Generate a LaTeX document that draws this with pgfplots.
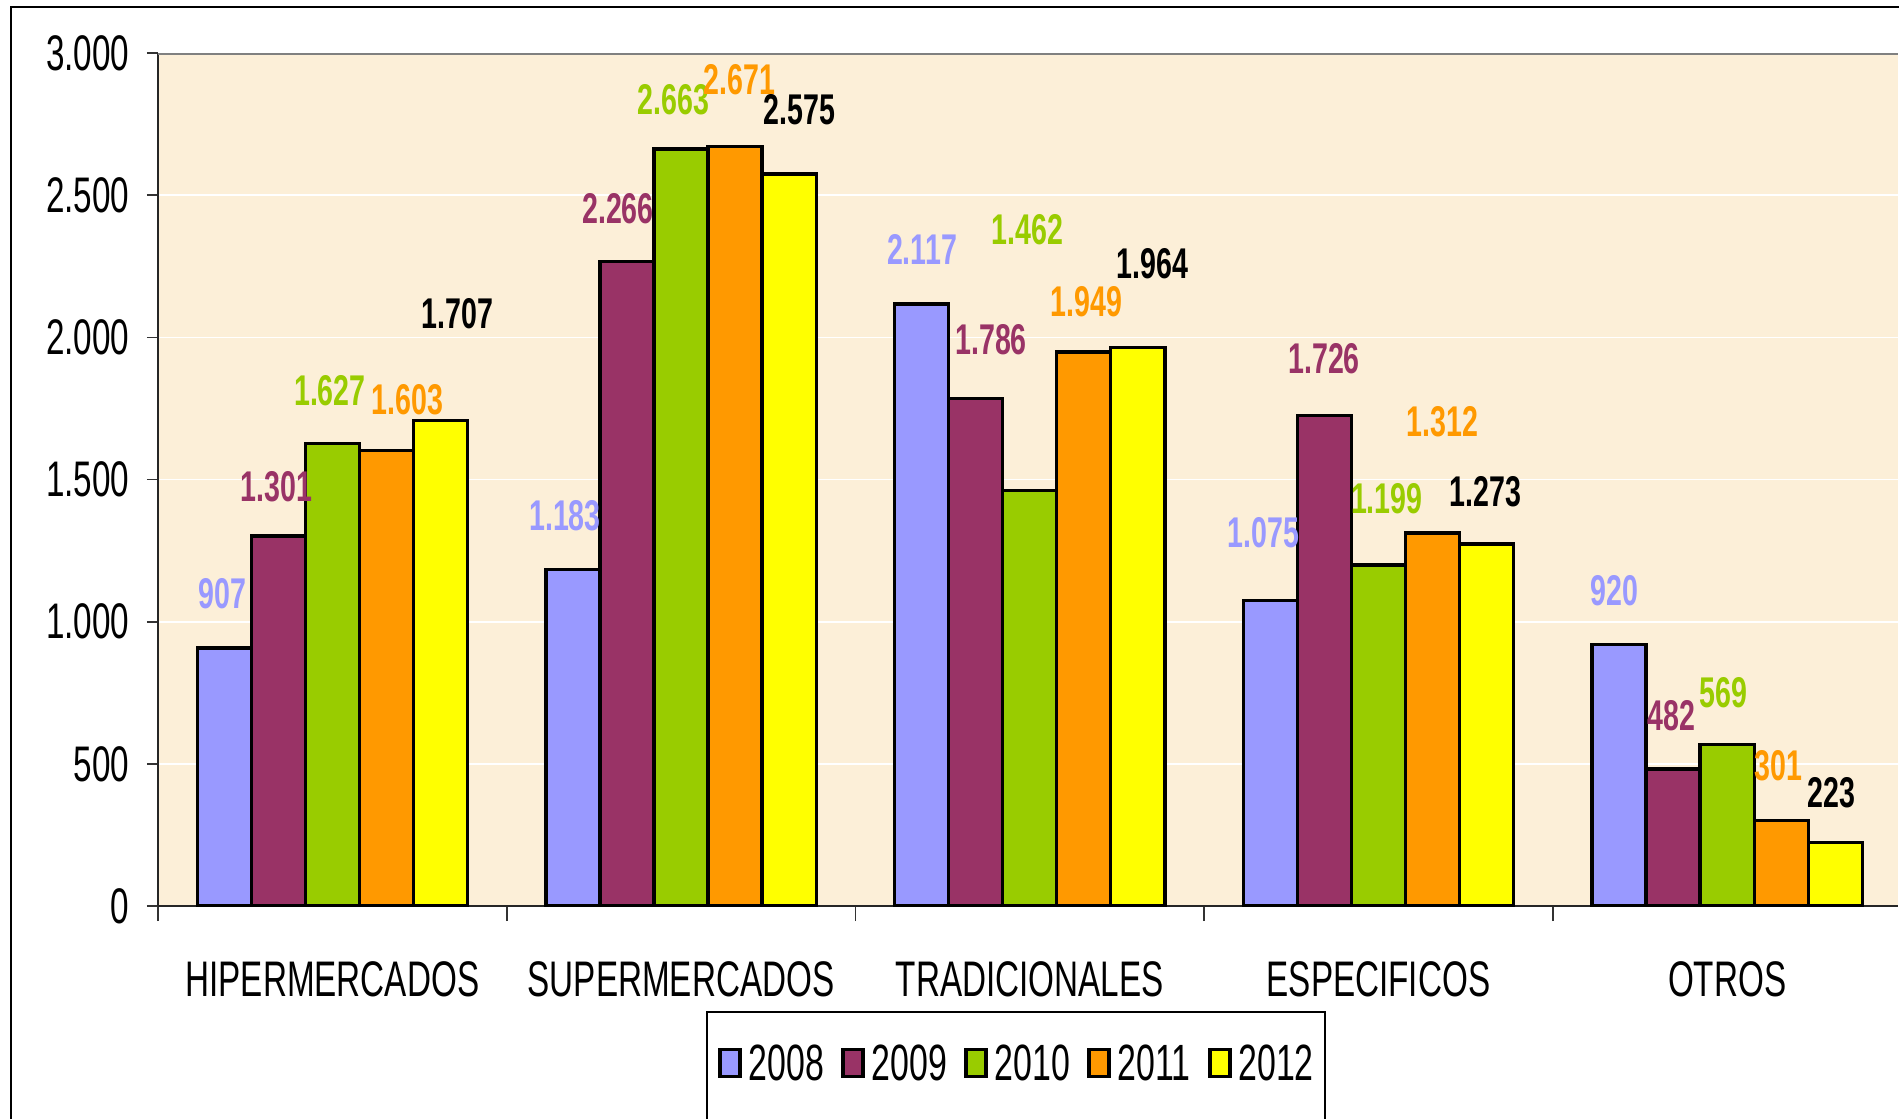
\documentclass[border=0pt]{standalone}
\usepackage{pgfplots}
\pgfplotsset{compat=1.18}
\usepackage{fontspec}
\setmainfont{Liberation Sans}[FakeStretch=0.665]
\definecolor{c2008}{HTML}{9999FF}
\definecolor{c2009}{HTML}{993366}
\definecolor{c2010}{HTML}{99CC00}
\definecolor{c2011}{HTML}{FF9900}
\definecolor{c2012}{HTML}{FFFF00}
\definecolor{bgc}{HTML}{FCEFD8}
\pgfplotsset{
  mybar/.style={ybar, bar width=0.155, fill=#1, draw=black, line width=1bp,
    legend image code/.code={\draw[fill=#1, draw=black, line width=1.1bp] (0bp,1.3bp) rectangle (6bp,9.4bp);}},
  mylab/.style={forget plot, only marks, mark=none, nodes near coords, point meta=explicit symbolic,
    every node near coord/.append style={anchor=center, inner sep=0pt, text=#1,
      font=\fontsize{12.9bp}{15bp}\selectfont\bfseries}},
}
\begin{document}
\begin{tikzpicture}
\useasboundingbox (0,0) rectangle (569.7bp,-335.7bp);
\draw[line width=0.6bp] (3.3bp,-335.7bp) -- (3.3bp,-2.1bp) -- (569.7bp,-2.1bp);
\begin{axis}[
  at={(47.4bp,-271.8bp)}, anchor=south west,
  scale only axis, width=522bp, height=255.9bp,
  xmin=-0.5, xmax=4.49, ymin=0, ymax=3000,
  axis lines*=left,
  axis line style={line width=0.8bp, color=black!85},
  axis background/.style={fill=bgc},
  ymajorgrids, major grid style={white, line width=0.5bp},
  tick align=outside,
  major tick length=3.3bp, minor tick length=4.5bp,
  tick style={color=black!80, line width=0.5bp},
  ytick={0,500,1000,1500,2000,2500,3000},
  yticklabels={0,500,{1.000},{1.500},{2.000},{2.500},{3.000}},
  xtick={0,1,2,3,4},
  xticklabels={HIPERMERCADOS,SUPERMERCADOS,TRADICIONALES,ESPECIFICOS,OTROS},
  minor xtick={-0.5,0.5,1.5,2.5,3.5},
  major x tick style={draw=none},
  /pgf/number format/assume math mode=true,
  tick label style={font=\fontsize{15bp}{18bp}\selectfont},
  yticklabel style={anchor=east, inner sep=0pt, xshift=-5.1bp},
  xticklabel style={anchor=north, inner sep=0pt, yshift=-13.2bp},
  legend columns=5,
  legend style={at={(0.3148,-0.1231)}, anchor=north west, draw=black, line width=0.6bp,
    fill=white, inner xsep=3.4bp, inner ysep=10bp,
    font=\fontsize{15.3bp}{18bp}\selectfont,
    nodes={inner sep=0pt, text depth=10bp, anchor=base west},
    /tikz/every odd column/.append style={column sep=2bp},
    /tikz/every even column/.append style={column sep=5.2bp}},
]
\addplot[mybar=c2008, bar shift=-0.31] coordinates {(0,907) (1,1183) (2,2117) (3,1075) (4,920)};
\addlegendentry{2008}
\addplot[mybar=c2009, bar shift=-0.155] coordinates {(0,1301) (1,2266) (2,1786) (3,1726) (4,482)};
\addlegendentry{2009}
\addplot[mybar=c2010, bar shift=0] coordinates {(0,1627) (1,2663) (2,1462) (3,1199) (4,569)};
\addlegendentry{2010}
\addplot[mybar=c2011, bar shift=0.155] coordinates {(0,1603) (1,2671) (2,1949) (3,1312) (4,301)};
\addlegendentry{2011}
\addplot[mybar=c2012, bar shift=0.31] coordinates {(0,1707) (1,2575) (2,1964) (3,1273) (4,223)};
\addlegendentry{2012}
\addplot[mylab=c2008] table[meta=lab] {
x y lab
-0.316 1099 907
0.667 1372 1.183
1.691 2310 2.117
2.670 1312 1.075
3.677 1108 920
};
\addplot[mylab=c2009] table[meta=lab] {
x y lab
-0.160 1474 1.301
0.819 2454 2.266
1.889 1990 1.786
2.844 1926 1.726
3.840 669 482
};
\addplot[mylab=c2010] table[meta=lab] {
x y lab
-0.007 1811 1.627
0.979 2834 2.663
1.993 2378 1.462
3.024 1432 1.199
3.990 750 569
};
\addplot[mylab=c2011] table[meta=lab] {
x y lab
0.215 1781 1.603
1.167 2906 2.671
2.163 2126 1.949
3.184 1704 1.312
4.146 494 301
};
\addplot[mylab=black] table[meta=lab] {
x y lab
0.358 2084 1.707
1.340 2800 2.575
2.351 2258 1.964
3.306 1457 1.273
4.299 400 223
};
\draw[color=gray, line width=1bp] (rel axis cs:0,1) -- (rel axis cs:1,1);
\end{axis}
\end{tikzpicture}
\end{document}
